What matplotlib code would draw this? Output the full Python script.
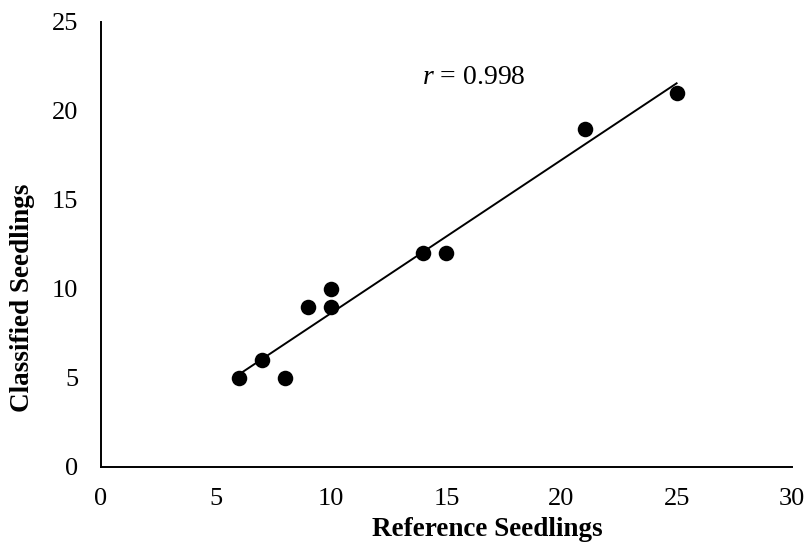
import numpy as np
import matplotlib
matplotlib.use("Agg")
import matplotlib.pyplot as plt

plt.rcParams['font.family'] = ['Liberation Serif', 'DejaVu Serif']
plt.rcParams['mathtext.fontset'] = 'custom'
plt.rcParams['mathtext.it'] = 'Liberation Serif:italic'
plt.rcParams['mathtext.rm'] = 'Liberation Serif'

reference = [6, 7, 8, 9, 10, 10, 14, 15, 21, 25]
classified = [5, 6, 5, 9, 10, 9, 12, 12, 19, 21]
x_ticks = [0, 5, 10, 15, 20, 25, 30]
y_ticks = [0, 5, 10, 15, 20, 25]
r_text = "0.998"

fig = plt.figure(figsize=(8.05, 5.47), dpi=100)
ax = fig.add_axes([0.1255, 0.1463, 0.858, 0.8135])

ax.scatter(reference, classified, s=125, color='black', zorder=3, linewidths=0)
slope, intercept = np.polyfit(reference, classified, 1)
xs = np.array([min(reference), max(reference)])
ax.plot(xs, slope * xs + intercept, color='black', linewidth=1.4, zorder=2)

ax.set_xlim(0, 30)
ax.set_ylim(0, 25)
ax.set_xticks(x_ticks)
ax.set_yticks(y_ticks)
ax.tick_params(length=0, labelsize=19)
ax.tick_params(axis='x', pad=15)
ax.tick_params(axis='y', pad=16.5)
for side in ['top', 'right']:
    ax.spines[side].set_visible(False)
for side in ['left', 'bottom']:
    ax.spines[side].set_linewidth(1.4)

ax.set_xlabel('Reference Seedlings', fontsize=19.5, fontweight='bold', va='center')
ax.set_ylabel('Classified Seedlings', fontsize=19.5, fontweight='bold', va='center')
ax.xaxis.set_label_coords(0.5586, -0.14)
ax.yaxis.set_label_coords(-0.114, 0.38)

ax.text(13.94, 21.9, r'$r$ = ' + r_text, fontsize=20, va='center', ha='left')

fig.savefig('out.png', dpi=100)
